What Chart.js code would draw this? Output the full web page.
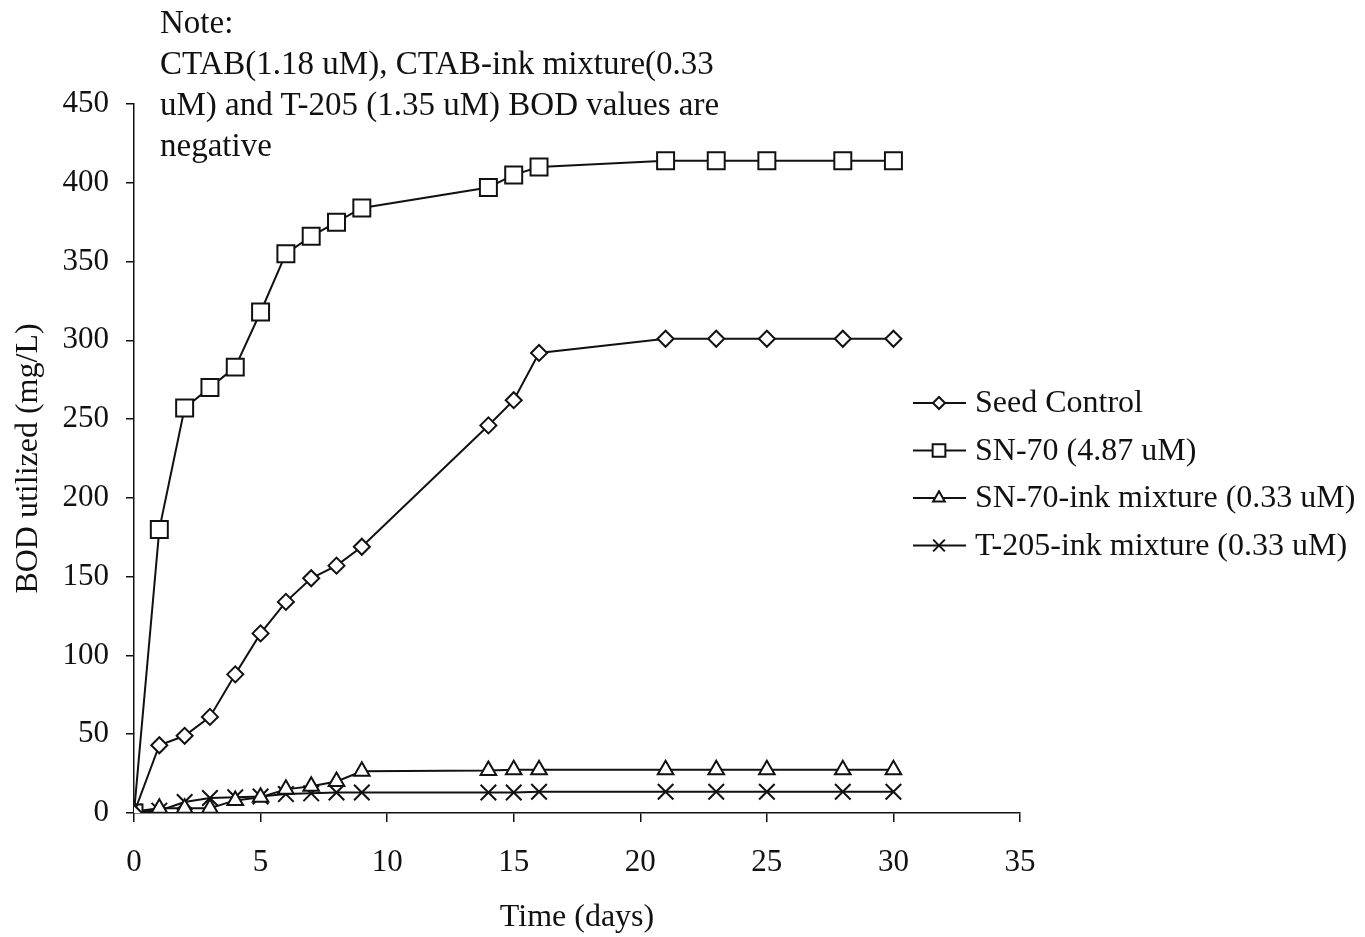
<!DOCTYPE html>
<html>
<head>
<meta charset="utf-8">
<title>BOD utilized</title>
<script src="https://cdn.jsdelivr.net/npm/chart.js@4.4.1/dist/chart.umd.min.js"></script>
<style>
  html, body { margin: 0; padding: 0; background: #fff; }
  #wrap { position: relative; width: 1365px; height: 937px; }
  #note {
    position: absolute; left: 160px; top: 2px;
    font-family: "Liberation Serif", "Times New Roman", serif;
    font-size: 33px; line-height: 41px; color: #111;
  }
</style>
</head>
<body>
<div id="wrap">
  <canvas id="bodChart" width="1365" height="937"></canvas>
  <div id="note">Note:<br>CTAB(1.18 uM), CTAB-ink mixture(0.33<br>uM) and T-205 (1.35 uM) BOD values are<br>negative</div>
</div>
<script>
var days = [0, 1, 2, 3, 4, 5, 6, 7, 8, 9, 14, 15, 16, 21, 23, 25, 28, 30];

var seedControl = [0, 43, 49, 61, 88, 114, 134, 149, 157, 169, 246, 262, 292, 301, 301, 301, 301, 301];
var sn70 = [0, 180, 257, 270, 283, 318, 355, 366, 375, 384, 397, 405, 410, 414, 414, 414, 414, 414];
var sn70Ink = [1, 3, 3, 3, 8, 10, 15, 17, 20, 26.5, 27, 27.5, 27.5, 27.5, 27.5, 27.5, 27.5, 27.5];
var t205Ink = [1, 1.5, 7, 9.5, 10, 10.5, 12, 12.5, 13, 13, 13, 13, 13.5, 13.5, 13.5, 13.5, 13.5, 13.5];

var seriesNames = ['Seed Control', 'SN-70 (4.87 uM)', 'SN-70-ink mixture (0.33 uM)', 'T-205-ink mixture (0.33 uM)'];
var xTicks = [0, 5, 10, 15, 20, 25, 30, 35];

var serif = '"Liberation Serif", "Times New Roman", serif';
var ink = '#111';

function pts(ys) {
    return days.map(function (d, i) { return { x: d, y: ys[i] }; });
}

function series(label, ys, style, r) {
    return {
        label: label,
        data: pts(ys),
        borderColor: ink,
        borderWidth: 2,
        pointStyle: style,
        pointRadius: r,
        pointHoverRadius: r,
        pointBorderWidth: 2,
        pointBorderColor: ink,
        pointBackgroundColor: '#fff',
        tension: 0,
        fill: false
    };
}

// legend drawn by hand: line stub with marker, then label
var sideLegend = {
    id: 'sideLegend',
    afterDraw: function (chart) {
        var ctx = chart.ctx;
        ctx.save();
        ctx.font = '32px ' + serif;
        ctx.textBaseline = 'middle';
        chart.data.datasets.forEach(function (ds, i) {
            var y = 403 + i * 47.5;
            ctx.strokeStyle = ink;
            ctx.lineWidth = 2;
            ctx.beginPath();
            ctx.moveTo(913, y);
            ctx.lineTo(966, y);
            ctx.stroke();
            ctx.fillStyle = '#fff';
            Chart.helpers.drawPoint(ctx, {
                pointStyle: ds.pointStyle,
                radius: ds.pointRadius * 0.75,
                borderWidth: 2
            }, 939, y);
            ctx.fillStyle = ink;
            ctx.fillText(ds.label, 975, y + 1);
        });
        ctx.restore();
    }
};

new Chart(document.getElementById('bodChart'), {
    type: 'line',
    data: {
        datasets: [
            series(seriesNames[0], seedControl, 'rectRot', 8),
            series(seriesNames[1], sn70, 'rect', 12),
            series(seriesNames[2], sn70Ink, 'triangle', 9),
            series(seriesNames[3], t205Ink, 'crossRot', 11)
        ]
    },
    options: {
        responsive: false,
        animation: false,
        layout: { padding: { top: 104, right: 345, left: 0, bottom: 0 } },
        plugins: {
            legend: { display: false },
            tooltip: { enabled: false }
        },
        scales: {
            x: {
                type: 'linear',
                min: 0,
                max: 35,
                afterBuildTicks: function (s) {
                    s.ticks = xTicks.map(function (v) { return { value: v }; });
                },
                afterFit: function (s) { s.height = 124; },
                border: { display: true, color: ink, width: 1.5 },
                grid: { drawOnChartArea: false, color: ink, tickLength: 9, lineWidth: 1.5 },
                ticks: { color: ink, font: { family: serif, size: 31 }, padding: 22, maxRotation: 0 },
                title: {
                    display: true,
                    text: 'Time (days)',
                    color: ink,
                    font: { family: serif, size: 32 },
                    padding: { top: 14, bottom: 0 }
                }
            },
            y: {
                min: 0,
                max: 450,
                afterFit: function (s) { s.width = 134; },
                border: { display: true, color: ink, width: 1.5 },
                grid: { drawOnChartArea: false, color: ink, tickLength: 8, lineWidth: 1.5 },
                ticks: { stepSize: 50, color: ink, font: { family: serif, size: 31 }, padding: 17 },
                title: {
                    display: true,
                    text: 'BOD utilized (mg/L)',
                    color: ink,
                    font: { family: serif, size: 32 },
                    padding: { top: 9, bottom: 0 }
                }
            }
        }
    },
    plugins: [sideLegend]
});
</script>
</body>
</html>
